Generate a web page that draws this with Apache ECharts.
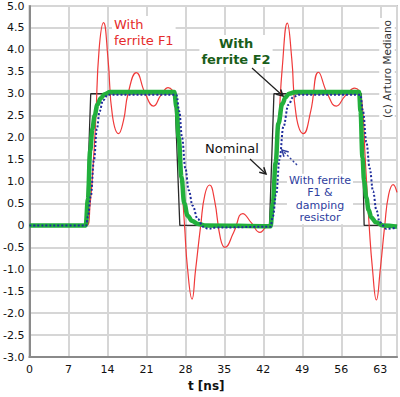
<!DOCTYPE html>
<html>
<head>
<meta charset="utf-8">
<style>
  html, body { margin: 0; padding: 0; background: #fff; }
  #chart { width: 400px; height: 397px; }
</style>
<script src="https://cdn.jsdelivr.net/npm/echarts@6/dist/echarts.min.js"></script>
</head>
<body>
<div id="chart"></div>
<script>
// axis ranges
const xMin = 0, xMax = 66, xStep = 7;
const yMin = -3, yMax = 5, yStep = 0.5;

// [t in ns, volts]
const nominal = [
  [0, 0], [10.2, 0], [11.0, 3.0], [26.1, 3.0], [27.0, 0], [43.1, 0],
  [43.9, 3.0], [59.6, 3.0], [60.1, 0], [66, 0],
];

const ferriteF1 = [
  [0, 0], [10.3, 0], [10.9, 0.5], [11.4, 1.3], [11.9, 2.4], [12.5, 4.0],
  [13.3, 4.62], [14.1, 3.8], [14.9, 2.5], [16.0, 2.09], [16.9, 2.4],
  [17.7, 3.0], [19.2, 3.48], [20.8, 3.0], [22.3, 2.72], [23.6, 2.97],
  [24.9, 3.14], [26.1, 2.9], [27.0, 1.6], [27.85, 0], [28.4, -1.0],
  [29.2, -1.68], [29.8, -1.05], [30.75, 0], [31.5, 0.7], [32.35, 0.92],
  [33.2, 0.6], [34.3, -0.3], [35.1, -0.5], [36.7, -0.15], [38.3, 0.27],
  [39.9, 0.05], [41.4, -0.16], [42.4, -0.05], [43.1, 0], [43.7, 0.5],
  [44.3, 1.4], [44.8, 2.4], [45.4, 3.6], [46.3, 4.61], [47.1, 3.8],
  [47.9, 2.5], [49.2, 2.09], [50.5, 2.6], [51.9, 3.49], [53.5, 3.0],
  [55.1, 2.72], [56.7, 2.95], [58.4, 3.13], [59.6, 2.9], [60.3, 1.5],
  [61.0, 0], [61.6, -1.0], [62.3, -1.7], [63.0, -1.0], [63.8, 0],
  [64.5, 0.7], [65.3, 0.93], [66, 0.75],
];

const ferriteF2 = [
  [0, 0], [10.1, 0], [10.5, 0.6], [10.9, 1.7], [11.3, 2.2], [11.7, 2.5],
  [12.2, 2.75], [12.8, 2.9], [13.5, 2.99], [14.5, 3.04], [26.0, 3.04],
  [26.4, 2.7], [26.8, 2.0], [27.3, 1.1], [27.8, 0.5], [28.4, 0.22],
  [29.2, 0.1], [30.3, 0.03], [31.5, 0], [43.3, -0.02], [43.7, 0.5],
  [44.2, 1.42], [44.7, 2.32], [45.4, 2.77], [46.0, 2.92], [46.6, 3.0],
  [47.8, 3.04], [59.2, 3.04], [59.45, 2.6], [59.8, 1.55], [60.1, 1.0],
  [60.5, 0.63], [60.9, 0.35], [61.4, 0.18], [62.2, 0.07], [63.5, 0],
  [66, -0.03],
];

const ferriteF1Damped = [
  [0, 0], [10.2, 0], [10.5, 0.2], [11.0, 0.65], [11.6, 1.5], [12.1, 2.2],
  [12.6, 2.6], [13.2, 2.85], [14.1, 2.98], [26.4, 2.98], [26.9, 2.6],
  [27.4, 2.0], [28.0, 1.3], [28.6, 0.8], [29.3, 0.45], [30.2, 0.15],
  [31.2, -0.03], [32.1, -0.08], [33.5, -0.05], [43.3, -0.03], [43.7, 0.2],
  [44.3, 0.7], [44.9, 1.5], [45.6, 2.25], [46.5, 2.75], [47.4, 2.93],
  [48.4, 2.98], [59.4, 2.98], [59.9, 2.6], [60.5, 1.9], [61.1, 1.3],
  [61.7, 0.78], [62.3, 0.35], [62.9, 0.07], [64.1, -0.08], [66, -0.05],
];

const FONT = 'DejaVu Sans, Verdana, sans-serif';

// thin arrow with an open V head pointing at `to`
const arrow = (from, to, color, dash) => {
  const ang = Math.atan2(to[1] - from[1], to[0] - from[0]);
  const len = 7;
  const spread = 0.5;
  const p1 = [to[0] - len * Math.cos(ang - spread), to[1] - len * Math.sin(ang - spread)];
  const p2 = [to[0] - len * Math.cos(ang + spread), to[1] - len * Math.sin(ang + spread)];
  return [
    {
      type: 'line',
      z: 100,
      shape: { x1: from[0], y1: from[1], x2: to[0], y2: to[1] },
      style: { stroke: color, lineWidth: dash ? 1.4 : 1.2, lineDash: dash ? [2, 2] : null },
    },
    {
      type: 'polyline',
      z: 100,
      shape: { points: [p1, to, p2] },
      style: { stroke: color, lineWidth: 1.5, fill: null },
    },
  ];
};

const label = (text, x, y, color, size, opts) => {
  const o = opts || {};
  const align = o.align || 'center';
  return {
    type: 'text',
    x,
    y,
    z: 100,
    rotation: o.rotation || 0,
    style: {
      text,
      fill: color,
      font: `${o.weight || 'normal'} ${size}px ${FONT}`,
      align,
      verticalAlign: 'middle',
      textAlign: align,
      textVerticalAlign: 'middle',
      lineHeight: o.lineHeight || size + 3,
      backgroundColor: '#fff',
      padding: o.padding || [0, 2],
    },
  };
};

const chart = echarts.init(document.getElementById('chart'), null, { renderer: 'svg' });

const option = {
  animation: false,
  backgroundColor: '#fff',
  grid: {
    left: 26,
    top: 6,
    right: 3,
    bottom: 35,
    show: true,
    borderColor: '#c4c4c4',
    borderWidth: 2,
  },
  xAxis: {
    type: 'value',
    min: xMin,
    max: xMax,
    interval: xStep,
    name: 't [ns]',
    nameLocation: 'middle',
    nameGap: 23,
    nameTextStyle: {
      fontFamily: FONT, fontSize: 12, fontWeight: 'bold', color: '#111',
      padding: [0, 14, 0, 0],
    },
    axisLine: { onZero: false, lineStyle: { color: '#8a8a8a', width: 2 } },
    axisTick: { show: false },
    axisLabel: {
      fontFamily: FONT, fontSize: 11, color: '#111', margin: 7,
      formatter: (v) => (v % xStep === 0 ? String(v) : ''),
    },
    splitLine: { lineStyle: { color: '#d6d6d6', width: 2 } },
  },
  yAxis: {
    type: 'value',
    min: yMin,
    max: yMax,
    interval: yStep,
    axisLine: { show: true, lineStyle: { color: '#8a8a8a', width: 2 } },
    axisTick: { show: false },
    axisLabel: {
      fontFamily: FONT, fontSize: 11, color: '#111', margin: 5,
      formatter: (v) => (v === 0 ? '0' : v.toFixed(1)),
    },
    splitLine: { lineStyle: { color: '#d6d6d6', width: 2 } },
  },
  series: [
    {
      name: 'Nominal',
      type: 'line',
      data: nominal,
      showSymbol: false,
      lineStyle: { color: '#2a2a2a', width: 1.3 },
      z: 2,
    },
    {
      name: 'With ferrite F1',
      type: 'line',
      data: ferriteF1,
      showSymbol: false,
      smooth: 0.5,
      lineStyle: { color: '#f03a3a', width: 1.2 },
      z: 3,
    },
    {
      name: 'With ferrite F2',
      type: 'line',
      data: ferriteF2,
      showSymbol: false,
      smooth: 0.4,
      smoothMonotone: 'x',
      lineStyle: { color: '#22b03c', width: 4.5 },
      z: 4,
    },
    {
      name: 'With ferrite F1 & damping resistor',
      type: 'line',
      data: ferriteF1Damped,
      showSymbol: false,
      smooth: 0.4,
      smoothMonotone: 'x',
      lineStyle: { color: '#1f2d9c', width: 2, type: [2, 2] },
      z: 5,
    },
  ],
  graphic: {
    elements: [
      label('With\nferrite F1', 112, 32, '#e52b2b', 13, { lineHeight: 16, align: 'left' }),
      label('With\nferrite F2', 236, 51, '#1a5e1a', 13, { weight: 'bold', lineHeight: 16 }),
      label('Nominal', 232, 148, '#111', 13),
      label('With ferrite\nF1 &\ndamping\nresistor', 320, 199, '#2e3e9e', 11, { lineHeight: 12.6 }),
      label('(c) Arturo Mediano', 387, 69, '#333', 10.5, { rotation: Math.PI / 2, padding: [1, 2] }),
      ...arrow([252, 68], [283, 96], '#1e1e1e'),
      ...arrow([250, 159], [266, 174], '#1e1e1e'),
      ...arrow([297, 165], [282, 150], '#2e3e9e', true),
    ],
  },
};

chart.setOption(option);
</script>
</body>
</html>
